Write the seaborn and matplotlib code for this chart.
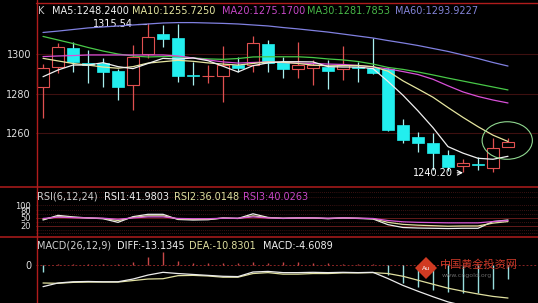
import numpy as np
import matplotlib
matplotlib.use("Agg")
import matplotlib.pyplot as plt
import seaborn as sns
from matplotlib.patches import Ellipse, Polygon
from matplotlib.lines import Line2D

# ---------------- data ----------------
opens = [1283.3, 1293.4, 1303.0, 1295.3, 1295.4, 1291.4, 1284.3, 1300.0, 1310.0, 1308.0,
         1289.3, 1288.7, 1289.0, 1294.4, 1294.4, 1304.9, 1296.1, 1292.2, 1292.8, 1293.6,
         1292.2, 1293.6, 1292.8, 1292.5, 1264.0, 1258.1, 1255.1, 1248.9, 1243.3, 1244.3,
         1242.1, 1253.1]
highs = [1295.0, 1305.6, 1306.0, 1302.0, 1298.0, 1292.5, 1304.6, 1315.54, 1314.7, 1315.2,
         1296.0, 1294.4, 1304.2, 1298.6, 1309.3, 1307.0, 1298.6, 1305.9, 1297.0, 1297.0,
         1304.2, 1296.1, 1308.3, 1293.0, 1266.9, 1260.7, 1260.2, 1251.4, 1246.7, 1248.0,
         1257.3, 1257.3]
lows = [1267.6, 1290.4, 1291.0, 1285.3, 1283.3, 1276.7, 1271.6, 1298.0, 1303.5, 1285.8,
        1284.3, 1285.3, 1275.9, 1291.0, 1291.0, 1290.7, 1287.7, 1287.7, 1284.3, 1282.3,
        1286.8, 1286.0, 1290.0, 1261.0, 1254.8, 1250.5, 1241.3, 1241.0, 1240.2, 1241.3,
        1240.4, 1252.8]
closes = [1293.0, 1303.5, 1296.0, 1294.5, 1290.9, 1283.3, 1298.5, 1308.6, 1307.6, 1289.0,
          1288.9, 1289.1, 1294.4, 1292.8, 1305.4, 1295.6, 1292.3, 1294.4, 1294.4, 1291.4,
          1294.4, 1292.8, 1290.2, 1261.5, 1256.5, 1255.1, 1250.0, 1242.6, 1244.7, 1243.7,
          1252.3, 1255.6]

ma5 = [1288.5, 1291.9, 1294.4, 1294.4, 1295.6, 1293.6, 1292.6, 1295.2, 1297.8, 1297.4,
       1298.0, 1296.6, 1293.8, 1290.9, 1294.1, 1295.5, 1296.1, 1296.1, 1296.0, 1293.6,
       1293.4, 1293.4, 1292.6, 1286.1, 1279.1, 1271.2, 1262.7, 1253.1, 1249.8, 1247.2,
       1246.7, 1248.2]
ma10 = [1297.8, 1296.5, 1295.2, 1294.4, 1293.4, 1292.8, 1293.6, 1295.4, 1296.1, 1296.8,
        1296.3, 1295.5, 1294.9, 1294.4, 1295.2, 1296.0, 1295.8, 1295.2, 1294.4, 1294.0,
        1294.1, 1294.2, 1293.6, 1291.3, 1286.4, 1282.3, 1278.1, 1272.9, 1267.9, 1263.2,
        1258.9, 1255.7]
ma20 = [1298.7, 1299.0, 1299.2, 1299.5, 1299.5, 1299.5, 1299.5, 1299.5, 1299.5, 1299.0,
        1298.0, 1297.0, 1296.0, 1295.4, 1295.7, 1296.0, 1295.7, 1295.4, 1295.2, 1294.9,
        1294.7, 1294.2, 1293.4, 1292.5, 1291.1, 1289.6, 1287.2, 1283.9, 1280.8, 1278.5,
        1276.7, 1275.2]
ma30 = [1308.9, 1307.1, 1305.3, 1303.3, 1301.5, 1300.0, 1299.0, 1298.5, 1298.7, 1298.7,
        1298.0, 1297.5, 1297.3, 1297.7, 1298.5, 1298.6, 1298.6, 1298.6, 1298.2, 1297.5,
        1297.0, 1296.2, 1294.9, 1293.2, 1292.2, 1290.9, 1289.4, 1287.8, 1286.3, 1284.8,
        1283.3, 1281.8]
ma60 = [1310.9, 1311.6, 1312.4, 1313.2, 1313.7, 1314.2, 1314.7, 1315.2, 1315.7, 1315.9,
        1315.9, 1315.7, 1315.5, 1315.2, 1314.7, 1314.2, 1313.4, 1312.7, 1311.9, 1311.1,
        1310.1, 1309.1, 1308.1, 1306.8, 1305.6, 1304.3, 1302.8, 1301.3, 1299.5, 1297.7,
        1295.7, 1293.9]

rsi1 = [42, 60, 54, 50, 47, 33, 55, 64, 64, 44, 42, 43, 50, 48, 66, 52, 48, 50, 50, 47,
        50, 48, 46, 24, 13, 11, 10, 9, 10, 10, 36, 42]
rsi2 = [45, 55, 52, 50, 48, 40, 52, 58, 58, 46, 44, 45, 49, 48, 58, 51, 49, 50, 50, 48,
        50, 49, 47, 33, 25, 22, 20, 18, 19, 19, 30, 36]
rsi3 = [48, 53, 51, 50, 49, 45, 50, 54, 54, 48, 47, 47, 49, 49, 54, 50, 49, 50, 50, 49,
        50, 49, 48, 40, 35, 33, 32, 31, 31, 31, 36, 40]

diff = [-7.1, -5.9, -5.5, -5.4, -5.5, -5.5, -4.6, -3.3, -2.4, -2.8, -3.1, -3.4, -3.7, -3.8,
        -2.3, -2.1, -2.5, -2.5, -2.4, -2.5, -2.4, -2.5, -2.4, -4.45, -6.7, -8.6, -10.4,
        -12.1, -13.25, -14.15, -14.3, -13.13]
dea = [-5.9, -6.0, -5.7, -5.6, -5.6, -5.6, -5.1, -4.6, -4.5, -3.5, -3.4, -3.6, -4.0, -4.0,
       -2.8, -2.5, -3.0, -3.0, -2.8, -2.8, -2.6, -2.6, -2.5, -2.8, -3.7, -5.0, -6.3, -7.6,
       -8.6, -9.5, -10.3, -10.83]
macd_hist = [-2.3, 0.3, 0.3, 0.3, 0.2, 0.3, 1.0, 2.7, 4.3, 1.3, 0.7, 0.5, 0.6, 0.5, 1.0,
             0.8, 1.0, 1.0, 0.8, 0.6, 0.4, 0.3, 0.2, -3.3, -6.0, -7.2, -8.2, -9.0, -9.3,
             -9.3, -8.0, -4.6]

price_ticks = [1260, 1280, 1300]
rsi_ticks = [20, 50, 80, 100]
macd_ticks = [0]

high_label = "1315.54"
low_label = "1240.20"

# ---------------- style ----------------
sns.set_theme(style="dark", rc={"axes.facecolor": "black", "figure.facecolor": "black"})
plt.rcParams['font.family'] = ['DejaVu Sans']

W, H = 538, 303
fig = plt.figure(figsize=(W / 100, H / 100), dpi=100)
fig.patch.set_facecolor('black')


def fx(px):
    return px / W


def fy(py):
    return 1 - py / H


X0 = 36
ax_main = fig.add_axes([fx(X0), fy(187), 1 - fx(X0), 184 / H])
ax_rsi = fig.add_axes([fx(X0), fy(237), 1 - fx(X0), 50 / H], sharex=ax_main)
ax_macd = fig.add_axes([fx(X0), 0, 1 - fx(X0), 66 / H], sharex=ax_main)

RED = '#e05050'
CYAN = '#22eeee'
CYAN_W = '#a8f0f0'
C_MA5 = '#f0f0f0'
C_MA10 = '#e6e6a0'
C_MA20 = '#d850d8'
C_MA30 = '#48c848'
C_MA60 = '#8080e0'
GRID = '#3e1010'
FRAME = '#b01c1c'
TXT = '#e0e0e0'

for ax in (ax_main, ax_rsi, ax_macd):
    ax.set_facecolor('black')
    for s in ax.spines.values():
        s.set_visible(False)
    ax.tick_params(axis='x', bottom=False, labelbottom=False, length=0)
    ax.tick_params(axis='y', left=False, length=0, colors=TXT, pad=3.6)
    ax.grid(False)

n = len(closes)
idx = np.arange(n)
o = np.array(opens)
c = np.array(closes)
hi = np.array(highs)
lo = np.array(lows)
up = c >= o
body_lo = np.minimum(o, c)
body_h = np.maximum(np.abs(c - o), 0.25)

# ---------------- main panel ----------------
for t in price_ticks:
    ax_main.axhline(t, color=GRID, lw=0.8, zorder=0)

wick_cols = [RED if u else CYAN_W for u in up]
ax_main.vlines(idx, lo, hi, colors=wick_cols, lw=0.9, zorder=2)
ax_main.bar(idx[up], body_h[up], bottom=body_lo[up], width=0.84,
            facecolor='black', edgecolor=RED, lw=0.8, zorder=3)
ax_main.bar(idx[~up], body_h[~up], bottom=body_lo[~up], width=0.84,
            facecolor=CYAN, edgecolor=CYAN, lw=0.5, zorder=3)

for vals, col in ((ma60, C_MA60), (ma30, C_MA30), (ma20, C_MA20), (ma10, C_MA10), (ma5, C_MA5)):
    sns.lineplot(x=idx, y=vals, ax=ax_main, color=col, lw=0.9, legend=False, zorder=4)

ax_main.set_xlim(-7 / 15, (538 - 43) / 15)
ax_main.set_ylim(1300 - 133 / 1.975, 1300 + 51 / 1.975)
ax_main.set_yticks(price_ticks)
ax_main.set_yticklabels([str(t) for t in price_ticks], fontsize=7)
ax_main.set_xlabel('')
ax_main.set_ylabel('')

i_hi = int(np.argmax(hi))
i_lo = int(np.argmin(lo))
ax_main.annotate(high_label, xy=(i_hi - 0.1, hi[i_hi] - 0.6), xytext=(-9.4, 0), textcoords='offset points',
                 ha='right', va='center', color='white', fontsize=7,
                 arrowprops=dict(arrowstyle='-', color='white', lw=0.8, shrinkA=1, shrinkB=0))
ax_main.annotate(low_label, xy=(i_lo, lo[i_lo] - 0.3), xytext=(-7.5, -0.5),
                 textcoords='offset points', ha='right', va='center', color='white', fontsize=7,
                 arrowprops=dict(arrowstyle='->', color='white', lw=0.8, shrinkA=1, shrinkB=0,
                                 mutation_scale=8))

ax_main.add_patch(Ellipse((n - 1 - 0.05, 1256.2), width=3.35, height=19.0, fill=False,
                          edgecolor='#90d890', lw=0.8, zorder=5))

# ---------------- RSI panel ----------------
for g in (150, 130, 100, 80, 65, 35, 5, -10):
    ax_rsi.axhline(g, color='#4e1818', lw=0.6, ls=(0, (1, 1.5)), zorder=0)
for g in (50, 20):
    ax_rsi.axhline(g, color='#621a1a', lw=0.7, zorder=0)
for vals, col in ((rsi1, '#ececec'), (rsi2, '#e0e0a0'), (rsi3, '#d858d8')):
    sns.lineplot(x=idx, y=vals, ax=ax_rsi, color=col, lw=0.9, legend=False, zorder=3)
ax_rsi.set_ylim(-23.7, 169.6)
ax_rsi.set_yticks(rsi_ticks)
ax_rsi.set_yticklabels([str(t) for t in rsi_ticks], fontsize=6, linespacing=0.8)
ax_rsi.set_xlabel('')
ax_rsi.set_ylabel('')

# ---------------- MACD panel ----------------
ax_macd.axhline(0, color='#8a2424', lw=0.7, ls=(0, (2, 2)), zorder=0)
mh = np.array(macd_hist)
hist_cols = ['#c84848' if v > 0 else '#98dede' for v in mh]
ax_macd.vlines(idx, 0, mh, colors=hist_cols, lw=1.0, zorder=2)
sns.lineplot(x=idx, y=dea, ax=ax_macd, color='#e0e0a0', lw=0.9, legend=False, zorder=3)
sns.lineplot(x=idx, y=diff, ax=ax_macd, color='#ececec', lw=0.9, legend=False, zorder=4)
ax_macd.set_ylim(-38 / 3.05, 28 / 3.05)
ax_macd.set_yticks(macd_ticks)
ax_macd.set_yticklabels(['0'], fontsize=7)
ax_macd.set_xlabel('')
ax_macd.set_ylabel('')
ax_macd.set_xlim(-7 / 15, (538 - 43) / 15)

# ---------------- frame lines ----------------
fig.add_artist(Line2D([fx(36.5), fx(36.5)], [0, 1], transform=fig.transFigure, color=FRAME, lw=1.0))
fig.add_artist(Line2D([fx(36), 1], [fy(3), fy(3)], transform=fig.transFigure, color=FRAME, lw=1.0))
fig.add_artist(Line2D([0, 1], [fy(187), fy(187)], transform=fig.transFigure, color=FRAME, lw=1.1))
fig.add_artist(Line2D([0, 1], [fy(237), fy(237)], transform=fig.transFigure, color=FRAME, lw=1.1))

# ---------------- header texts ----------------
FS = 7
heads_main = [(38, "K", '#c8c8c8'), (52, "MA5:1248.2400", C_MA5), (132, "MA10:1255.7250", C_MA10),
              (222, "MA20:1275.1700", '#c848c8'), (307, "MA30:1281.7853", '#48b848'),
              (395, "MA60:1293.9227", '#8484d8')]
for px, s, col in heads_main:
    fig.text(fx(px), fy(10.5), s, color=col, fontsize=FS, ha='left', va='center')

heads_rsi = [(37, "RSI(6,12,24)", '#d0d0d0'), (104, "RSI1:41.9803", '#f0f0f0'),
             (174, "RSI2:36.0148", '#e0e0a0'), (243, "RSI3:40.0263", '#c848c8')]
for px, s, col in heads_rsi:
    fig.text(fx(px), fy(196.5), s, color=col, fontsize=FS, ha='left', va='center')

heads_macd = [(37, "MACD(26,12,9)", '#d0d0d0'), (117, "DIFF:-13.1345", '#f0f0f0'),
              (189, "DEA:-10.8301", '#e0e0a0'), (263, "MACD:-4.6089", '#f0f0f0')]
for px, s, col in heads_macd:
    fig.text(fx(px), fy(246), s, color=col, fontsize=FS, ha='left', va='center')

# ---------------- watermark ----------------
fig.add_artist(Polygon([(fx(426), fy(257)), (fx(437), fy(268)), (fx(426), fy(279)), (fx(415), fy(268))],
                       closed=True, transform=fig.transFigure, facecolor='#d03a22', edgecolor='none'))
fig.text(fx(426), fy(269), "Au", color='white', fontsize=4.5, ha='center', va='center')
fig.text(fx(440), fy(265), "中国黄金投资网", color='#c83828', fontsize=8, ha='left', va='center',
         family=['Noto Sans CJK SC', 'DejaVu Sans'])
fig.text(fx(442), fy(276), "www.cngold.org", color='#6a6a6a', fontsize=4.5, ha='left', va='center')

fig.savefig('out.png', dpi=100, facecolor='black')
